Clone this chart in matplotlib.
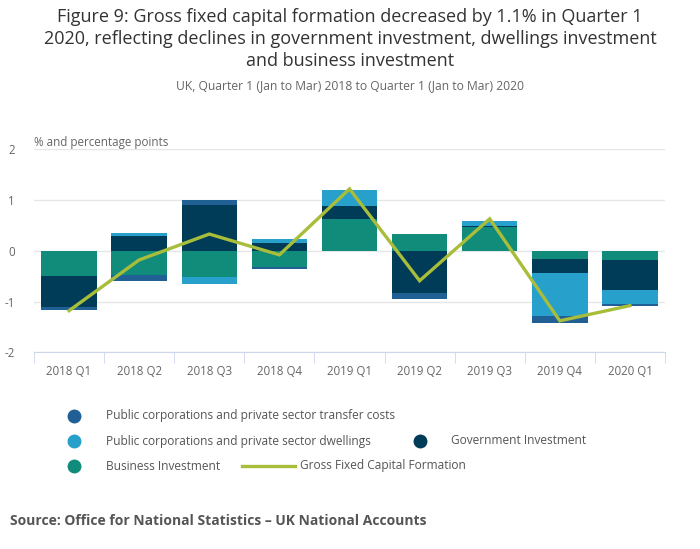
import matplotlib.pyplot as plt
from matplotlib.lines import Line2D
import numpy as np

plt.rcParams['font.family'] = ['Open Sans', 'DejaVu Sans']
plt.rcParams['axes.unicode_minus'] = False

quarters = ['2018 Q1', '2018 Q2', '2018 Q3', '2018 Q4', '2019 Q1',
            '2019 Q2', '2019 Q3', '2019 Q4', '2020 Q1']
transfer_costs = [-0.07, -0.12, 0.09, -0.04, 0.0, -0.12, 0.0, -0.13, -0.04]
dwellings = [0.0, 0.06, -0.14, 0.08, 0.30, 0.0, 0.10, -0.85, -0.27]
government = [-0.61, 0.30, 0.91, 0.16, 0.26, -0.83, 0.02, -0.28, -0.59]
business = [-0.49, -0.47, -0.51, -0.32, 0.63, 0.34, 0.46, -0.16, -0.18]
gfcf = [-1.18, -0.18, 0.33, -0.08, 1.22, -0.59, 0.63, -1.38, -1.08]

names = ['Public corporations and private sector transfer costs',
         'Public corporations and private sector dwellings',
         'Government Investment', 'Business Investment']
colors = ['#206095', '#27a0cc', '#003c57', '#118c7b']
line_color = '#a8bd3a'

fig = plt.figure(figsize=(7, 5.49), dpi=100)
ax = fig.add_axes([34 / 700, 1 - 352.3 / 549, 631 / 700, 203 / 549])

x = np.arange(len(quarters))
pos = np.zeros(len(quarters))
neg = np.zeros(len(quarters))
# stack closest to zero first: business, government, dwellings, transfer costs
for vals, col in zip([business, government, dwellings, transfer_costs],
                     [colors[3], colors[2], colors[1], colors[0]]):
    v = np.array(vals)
    bottom = np.where(v >= 0, pos, neg)
    ax.bar(x, v, bottom=bottom, width=0.79, color=col, zorder=2)
    pos += np.where(v >= 0, v, 0)
    neg += np.where(v < 0, v, 0)

ax.plot(x, gfcf, color=line_color, lw=2.4, zorder=3, solid_joinstyle='miter')

ax.set_xlim(-0.5, len(quarters) - 0.5)
ax.set_ylim(-2, 2)
ax.set_yticks([-2, -1, 0, 1, 2])
ax.yaxis.grid(True, color='#e6e6e6', lw=1)
ax.set_axisbelow(True)
for s in ['top', 'right', 'left']:
    ax.spines[s].set_visible(False)
ax.spines['bottom'].set_color('#ccd6eb')
ax.set_xticks(x)
ax.set_xticklabels(quarters)
ax.set_xticks(np.arange(-0.5, len(quarters)), minor=True)
ax.tick_params(axis='x', which='major', length=0, pad=9, labelsize=8.3, labelcolor='#666666')
ax.tick_params(axis='x', which='minor', length=8, color='#ccd6eb', direction='out')
ax.tick_params(axis='y', length=0, pad=14, labelsize=8.3, labelcolor='#666666')

fig.text(0.5, 1 - 8 / 549,
         'Figure 9: Gross fixed capital formation decreased by 1.1% in Quarter 1\n'
         '2020, reflecting declines in government investment, dwellings investment\n'
         'and business investment',
         ha='center', va='top', fontsize=13, color='#333333', linespacing=1.3)
fig.text(0.5, 1 - 86 / 549,
         'UK, Quarter 1 (Jan to Mar) 2018 to Quarter 1 (Jan to Mar) 2020',
         ha='center', va='center', fontsize=8.7, color='#666666')
fig.text(34 / 700, 1 - 143 / 549, '% and percentage points',
         ha='left', va='center', fontsize=8.4, color='#666666')

# legend laid out by hand to mimic the wrapping layout
legend_items = [
    ('dot', colors[0], names[0], 74, 106, 416),
    ('dot', colors[1], names[1], 74, 106, 441),
    ('dot', colors[2], names[2], 420, 451, 441),
    ('dot', colors[3], names[3], 74, 106, 466),
    ('line', line_color, 'Gross Fixed Capital Formation', 242, 300, 466),
]
for kind, col, label, mx, tx, y in legend_items:
    yf = 1 - y / 549
    if kind == 'dot':
        fig.add_artist(Line2D([mx / 700], [yf], marker='o', markersize=9,
                              color=col, linestyle='none'))
    else:
        fig.add_artist(Line2D([mx / 700, 295 / 700], [yf, yf], color=col, lw=2.4))
    fig.text(tx / 700, yf, label, ha='left', va='center', fontsize=8.6, color='#555555')

fig.text(10 / 700, 1 - 521 / 549,
         'Source: Office for National Statistics \u2013 UK National Accounts',
         ha='left', va='center', fontsize=10, fontweight='bold', color='#555555')

fig.savefig('out.png', dpi=100)
